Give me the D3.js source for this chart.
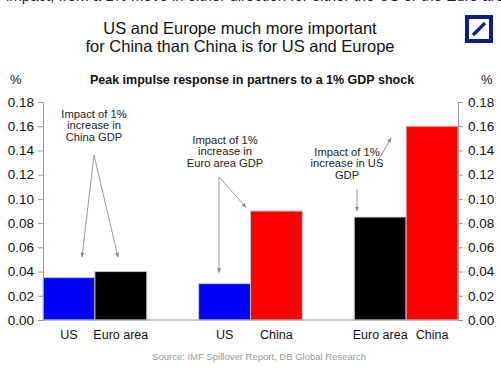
<!DOCTYPE html>
<html>
<head>
<meta charset="utf-8">
<script src="https://cdn.jsdelivr.net/npm/d3@7"></script>
<style>
  body { margin: 0; background: #fff; }
  svg { display: block; font-family: "Liberation Sans", Arial, sans-serif; }
</style>
</head>
<body>
<svg width="501" height="373"></svg>
<script>
    const width = 501;
    const height = 373;

    // slots along the x axis, empty ones leave the gaps between groups
    const slots = ["us1", "ea1", "gap1", "us2", "cn2", "gap2", "ea3", "cn3"];
    const barSlots = ["us1", "ea1", "us2", "cn2", "ea3", "cn3"];
    const barLabels = ["US", "Euro area", "US", "China", "Euro area", "China"];
    const barValues = [0.035, 0.04, 0.03, 0.09, 0.085, 0.16];
    const barColors = ["#0000ff", "#000000", "#0000ff", "#ff0000", "#000000", "#ff0000"];
    const yTicks = [0, 0.02, 0.04, 0.06, 0.08, 0.10, 0.12, 0.14, 0.16, 0.18];

    const bars = barSlots.map((s, i) => ({slot: s, label: barLabels[i], value: barValues[i], color: barColors[i]}));

    const x = d3.scaleBand().domain(slots).range([43, 458]).padding(0);
    const y = d3.scaleLinear().domain([0, 0.18]).range([320, 102]);

    const svg = d3.select("svg")
      .attr("viewBox", [0, 0, width, height]);

    // clipped sentence at the very top
    svg.append("text")
      .attr("x", 6).attr("y", 1)
      .attr("font-size", 15).attr("fill", "#222")
      .text("impact, from a 1% move in either direction for either the US or the Euro area.");

    // titles
    const title = svg.append("text")
      .attr("text-anchor", "middle")
      .attr("font-size", 16.5).attr("fill", "#111");
    title.append("tspan").attr("x", 240).attr("y", 34).text("US and Europe much more important");
    title.append("tspan").attr("x", 240).attr("y", 52).text("for China than China is for US and Europe");

    svg.append("text")
      .attr("x", 252).attr("y", 84)
      .attr("text-anchor", "middle")
      .attr("font-size", 12.5).attr("font-weight", "bold").attr("fill", "#111")
      .text("Peak impulse response in partners to a 1% GDP shock");

    svg.append("text").attr("x", 10).attr("y", 84).attr("font-size", 13).attr("fill", "#111").text("%");
    svg.append("text").attr("x", 481).attr("y", 84).attr("font-size", 13).attr("fill", "#111").text("%");

    // logo
    const logo = svg.append("g");
    logo.append("rect")
      .attr("x", 467).attr("y", 17).attr("width", 24).attr("height", 24)
      .attr("fill", "#fff").attr("stroke", "#0b1e8c").attr("stroke-width", 4);
    logo.append("line")
      .attr("x1", 473).attr("y1", 35).attr("x2", 485).attr("y2", 23)
      .attr("stroke", "#0b1e8c").attr("stroke-width", 3.2);

    // bars
    svg.append("g")
      .selectAll("rect")
      .data(bars)
      .join("rect")
      .attr("x", d => x(d.slot))
      .attr("y", d => y(d.value))
      .attr("width", x.bandwidth())
      .attr("height", d => y(0) - y(d.value))
      .attr("fill", d => d.color)
      .attr("stroke", "#c8c8c8")
      .attr("stroke-width", 1);

    // axes
    const leftAxis = svg.append("g")
      .attr("transform", `translate(43,0)`)
      .call(d3.axisLeft(y).tickValues(yTicks).tickFormat(d3.format(".2f")).tickSize(5).tickPadding(4));
    const rightAxis = svg.append("g")
      .attr("transform", `translate(458,0)`)
      .call(d3.axisRight(y).tickValues(yTicks).tickFormat(d3.format(".2f")).tickSize(5).tickPadding(5));
    [leftAxis, rightAxis].forEach(a => {
      a.select(".domain").attr("stroke", "#999");
      a.selectAll(".tick line").attr("stroke", "#999");
      a.selectAll(".tick text").attr("font-size", 13.5).attr("fill", "#111")
        .attr("font-family", "Liberation Sans, Arial, sans-serif");
    });

    svg.append("line")
      .attr("x1", 43).attr("x2", 458).attr("y1", y(0)).attr("y2", y(0))
      .attr("stroke", "#999");

    // category labels
    svg.append("g")
      .selectAll("text")
      .data(bars)
      .join("text")
      .attr("x", d => x(d.slot) + x.bandwidth() / 2)
      .attr("y", 339)
      .attr("text-anchor", "middle")
      .attr("font-size", 12.5).attr("fill", "#111")
      .text(d => d.label);

    // source
    svg.append("text")
      .attr("x", 259).attr("y", 360)
      .attr("text-anchor", "middle")
      .attr("font-size", 9.5).attr("fill", "#999")
      .text("Source: IMF Spillover Report, DB Global Research");

    // annotations
    const defs = svg.append("defs");
    defs.append("marker")
      .attr("id", "arr").attr("viewBox", "0 0 10 10")
      .attr("refX", 9).attr("refY", 5)
      .attr("markerWidth", 5).attr("markerHeight", 5)
      .attr("orient", "auto")
      .append("path").attr("d", "M0,1 L10,5 L0,9 Z").attr("fill", "#888");

    const notes = [
      {x: 94, y: 118, lines: ["Impact of 1%", "increase in", "China GDP"]},
      {x: 225, y: 144, lines: ["Impact of 1%", "increase in", "Euro area GDP"]},
      {x: 347, y: 156, lines: ["Impact of 1%", "increase in US", "GDP"]}
    ];
    notes.forEach(n => {
      const t = svg.append("text").attr("text-anchor", "middle").attr("font-size", 11.2).attr("fill", "#222");
      n.lines.forEach((l, i) => t.append("tspan").attr("x", n.x).attr("y", n.y + i * 11.3).text(l));
    });

    const arrows = [
      [94, 155, 82, y(0.052)],
      [94, 155, 118, y(0.052)],
      [219, 177, 219, y(0.039)],
      [219, 177, 246, y(0.093)],
      [357, 189, 357, y(0.09)],
      [378, 161, 391, 138]
    ];
    svg.append("g")
      .selectAll("line")
      .data(arrows)
      .join("line")
      .attr("x1", d => d[0]).attr("y1", d => d[1])
      .attr("x2", d => d[2]).attr("y2", d => d[3])
      .attr("stroke", "#999").attr("stroke-width", 1)
      .attr("marker-end", "url(#arr)");
</script>
</body>
</html>
